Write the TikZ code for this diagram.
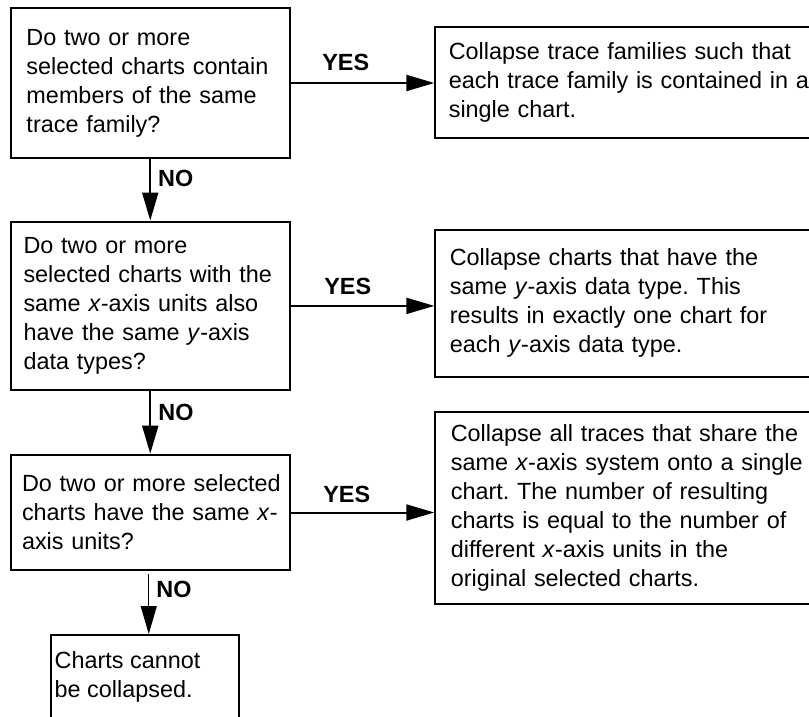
\documentclass[tikz,border=0pt]{standalone}
\usepackage{fontspec}
\setmainfont{Liberation Sans}
\usetikzlibrary{arrows.meta}
\begin{document}
\begin{tikzpicture}[x=1pt,y=-1pt,
  txt/.style={font=\fontsize{23.4}{29}\selectfont, execute at begin node={\frenchspacing\hyphenpenalty=10000\exhyphenpenalty=10000\hbadness=10000\hfuzz=50pt}},
  box/.style={txt, draw=black, line width=2pt, rectangle, align=left, anchor=north west, inner ysep=0pt},
  lbl/.style={font=\fontsize{23.4}{29}\selectfont\bfseries, inner sep=0pt},
  arr/.style={line width=2pt, -{Triangle[length=28pt,width=16pt]}},
  thinarr/.style={line width=1.2pt, -{Triangle[length=28pt,width=16pt]}}]
\clip (0,0) rectangle (809,717);
\useasboundingbox (0,0) rectangle (809,717);

% left column
\node[box, minimum width=279.5pt, minimum height=149pt, inner xsep=16pt, text width=247.5pt] (b1) at (9.5,7.5)
  {Do two or more\\selected charts contain\\members of the same\\trace family?};
\node[box, minimum width=279.5pt, minimum height=168.8pt, inner xsep=13pt, text width=253.5pt] (b2) at (9.5,220.5)
  {Do two or more\\selected charts with the\\same \textit{x}-axis units also\\have the same \textit{y}-axis\\data types?};
\node[box, minimum width=279.5pt, minimum height=115.6pt, inner xsep=11.5pt, text width=256.5pt] (b3) at (9.5,453.7)
  {\mbox{Do two or more selected}\\charts have the same \textit{x}-\\axis units?};
\node[draw=black, line width=2pt, rectangle, anchor=north west, minimum width=188pt, minimum height=140pt, inner sep=0pt] (b4) at (50,634) {};
\node[txt, align=left, anchor=north west, inner sep=0pt] (t4) at (54.5,651)
  {Charts cannot\\be collapsed.};

% right column
\node[box, minimum width=390pt, minimum height=111pt, inner xsep=13.5pt, text width=363pt] (r1) at (434.3,25.7)
  {Collapse trace families such that\\each trace family is contained in a\\single chart.};
\node[box, minimum width=390pt, minimum height=146.7pt, inner xsep=14.5pt, text width=361pt] (r2) at (434.3,229)
  {Collapse charts that have the\\same \textit{y}-axis data type. This\\results in exactly one chart for\\each \textit{y}-axis data type.};
\node[box, minimum width=390pt, minimum height=192pt, inner xsep=15.5pt, text width=359pt] (r3) at (434.3,410.7)
  {Collapse all traces that share the\\same \textit{x}-axis system onto a single\\chart. The number of resulting\\charts is equal to the number of\\different \textit{x}-axis units in the\\original selected charts.};

% YES connectors
\draw[arr] (b1.east) -- (b1.east -| r1.west);
\draw[arr] (b2.east) -- (b2.east -| r2.west);
\draw[arr] (b3.east) -- (b3.east -| r3.west);
\node[lbl] (y1) at (345.7,62) {YES};
\node[lbl] (y2) at (347.7,286) {YES};
\node[lbl] (y3) at (346.7,494) {YES};

% NO connectors
\draw[arr] (b1.south) -- (b1.south |- b2.north);
\draw[arr] (b2.south) -- (b2.south |- b3.north);
\coordinate (n3) at ([xshift=-1.5pt,yshift=-3pt]b3.south);
\draw[thinarr] (n3) -- (n3 |- b4.north);
\node[lbl] (no1) at (175.7,178.5) {NO};
\node[lbl] (no2) at (176,412.5) {NO};
\node[lbl] (no3) at (174,589) {NO};
\end{tikzpicture}
\end{document}
